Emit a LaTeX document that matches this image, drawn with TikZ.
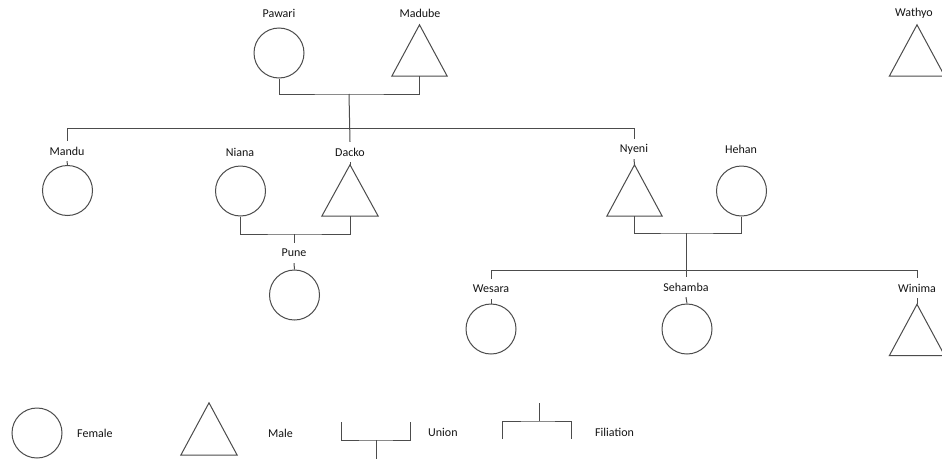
\documentclass[tikz,border=0pt]{standalone}
\usepackage{fontspec}
\setmainfont{Carlito}
\begin{document}
\begin{tikzpicture}[x=1pt,y=-1pt,
  lw/.style={line width=1pt, draw=black!70},
  fem/.style={circle, draw=black!70, line width=1pt, minimum size=50pt, inner sep=0pt},
  malebox/.style={minimum width=55pt, minimum height=51pt, inner sep=0pt},
  lbl/.style={font=\fontsize{12}{14}\selectfont, text=black!92, inner sep=0pt, minimum height=20pt},
  lgd/.style={font=\fontsize{12}{14}\selectfont, text=black!92, inner sep=0pt, anchor=west},
]
\fill[white] (0,0) rectangle (942,458);
\clip (0,0) rectangle (942,458);

% generation 1
\node[lbl] (pawaril) at (279,13) {Pawari};
\node[fem] (pawari) at (279,53) {};
\node[lbl] (madubel) at (420,13) {Madube};
\node[malebox] (madube) at (419.5,50.5) {};
\draw[lw] (madube.north) -- (madube.south east) -- (madube.south west) -- cycle;
\node[lbl] (wathyol) at (914,13) {Wathyo};
\node[malebox] (wathyo) at (917,50.5) {};
\draw[lw] (wathyo.north) -- (wathyo.south east) -- (wathyo.south west) -- cycle;

\coordinate (u1) at (349,94);
\coordinate (s1) at (349,128);
\draw[lw] (pawari.south) |- (u1) -| (madube.south);

% generation 2
\node[lbl] (mandul) at (67,151) {Mandu};
\node[fem] (mandu) at (67.5,190.5) {};
\node[lbl] (nianal) at (240,152) {Niana};
\node[fem] (niana) at (240.5,191) {};
\node[lbl] (dackol) at (350,152) {Dacko};
\node[malebox, minimum width=56pt] (dacko) at (350,190.5) {};
\draw[lw] (dacko.north) -- (dacko.south east) -- (dacko.south west) -- cycle;
\node[lbl] (nyenil) at (634,149) {Nyeni};
\node[malebox] (nyeni) at (634.5,190.5) {};
\draw[lw] (nyeni.north) -- (nyeni.south east) -- (nyeni.south west) -- cycle;
\node[lbl] (hehanl) at (741,149) {Hehan};
\node[fem] (hehan) at (741.5,191) {};

\draw[lw] (u1) -- (dackol.north);
\draw[lw] (mandul.north) -- (mandul.north |- s1) -- (nyenil.north |- s1) -- (nyenil.north);
\draw[lw] (mandul.south) -- (mandu.north);
\draw[lw] (dackol.south) -- (dacko.north);
\draw[lw] (nyenil.south) -- (nyeni.north);

% Niana + Dacko
\coordinate (u2) at (294,234);
\draw[lw] (niana.south) |- (u2) -| (dacko.south);
\node[lbl] (punel) at (294,253) {Pune};
\node[fem] (pune) at (294.5,295) {};
\draw[lw] (u2) -- (punel.north);
\draw[lw] (punel.south) -- (pune.north);

% Nyeni + Hehan
\coordinate (u3) at (686,233);
\coordinate (s2) at (686,270);
\draw[lw] (nyeni.south) |- (u3) -| (hehan.south);
\draw[lw] (u3) -- (s2);
\node[lbl] (wesaral) at (491,289) {Wesara};
\node[fem] (wesara) at (491,329) {};
\node[lbl] (sehambal) at (686,287) {Sehamba};
\node[fem] (sehamba) at (687,329) {};
\node[lbl] (winimal) at (917,288) {Winima};
\node[malebox] (winima) at (917,330) {};
\draw[lw] (winima.north) -- (winima.south east) -- (winima.south west) -- cycle;
\draw[lw] (wesaral.north) -- (wesaral.north |- s2) -- (winimal.north |- s2) -- (winimal.north);
\draw[lw] (s2) -- (sehambal.north);
\draw[lw] (wesaral.south) -- (wesara.north);
\draw[lw] (sehambal.south) -- (sehamba.north);
\draw[lw] (winimal.south) -- (winima.north);

% legend
\node[fem] (lfem) at (37,433) {};
\node[lgd] (lfeml) at (77,433) {Female};
\node[malebox, minimum width=56pt, minimum height=52pt] (lmale) at (209,429) {};
\draw[lw] (lmale.north) -- (lmale.south east) -- (lmale.south west) -- cycle;
\node[lgd] (lmalel) at (268,433) {Male};
\coordinate (un1) at (341,422);
\coordinate (un2) at (410,422);
\coordinate (un3) at (376,440);
\coordinate (un4) at (376,460);
\draw[lw] (un1) |- (un3) -| (un2);
\draw[lw] (un3) -- (un4);
\node[lgd] (lunionl) at (428,432) {Union};
\coordinate (fi1) at (539,403);
\coordinate (fi2) at (539,421);
\coordinate (fi3) at (502,439);
\coordinate (fi4) at (571,439);
\draw[lw] (fi1) -- (fi2);
\draw[lw] (fi3) |- (fi2) -| (fi4);
\node[lgd] (lfill) at (595,432) {Filiation};
\end{tikzpicture}
\end{document}
